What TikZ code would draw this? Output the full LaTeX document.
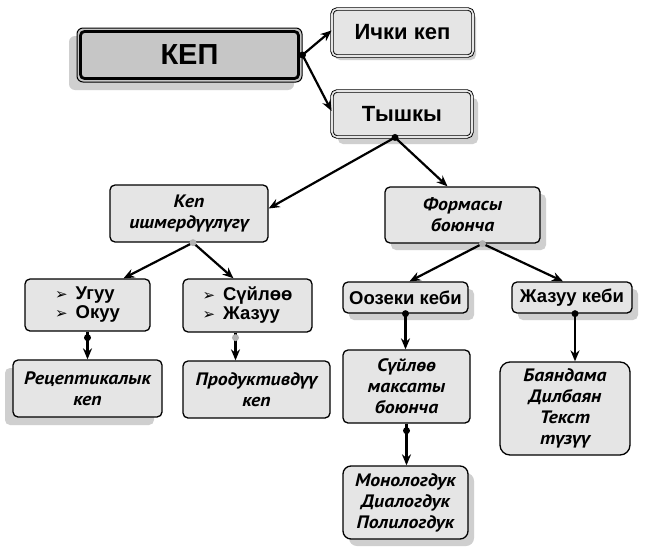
\documentclass[tikz,border=0pt]{standalone}
\usepackage{fontspec}
\setmainfont{Liberation Sans}
\newfontfamily\ptit[FakeStretch=1.1]{PT Sans}
\newfontfamily\dejavu{DejaVu Sans}
\usetikzlibrary{arrows.meta,shadows,calc}
\newcommand{\blt}{{\dejavu\fontsize{15}{15}\selectfont ➢}\hspace{8pt}}
\begin{document}
\begin{tikzpicture}[x=1pt,y=-1pt,
  box/.style={draw, rounded corners=5pt, fill=gray!20, line width=1.3pt,
    align=center, inner sep=0pt, font=\fontsize{18.5}{20}\selectfont\bfseries},
  itbox/.style={box, font=\ptit\fontsize{18}{21}\selectfont\bfseries\itshape},
  dbl/.style={double=gray!20, double distance=1.6pt, line width=0.9pt},
  shr/.style={drop shadow={shadow xshift=6pt, shadow yshift=-7pt, fill=gray!38, opacity=1}},
  shl/.style={drop shadow={shadow xshift=-8pt, shadow yshift=-8pt, fill=gray!38, opacity=1}},
  conn/.style={line width=2.2pt, -{Stealth[length=11pt,width=9pt]}},
  dotc/.style={circle, fill=black, inner sep=0pt, minimum size=7pt}
]
\useasboundingbox (0,0) rectangle (645,546);
\fill[white] (0,0) rectangle (645,546);

% top level
\node[box, shl, fill=gray!45, rounded corners=6pt, minimum width=225pt, minimum height=54pt,
  line width=1pt, font=\fontsize{29}{31}\selectfont\bfseries] (kep) at (189.5,55) {КЕП};
\draw[line width=2.8pt, rounded corners=4pt]
  ([shift={(4pt,-4pt)}]kep.north west) rectangle ([shift={(-4pt,4pt)}]kep.south east);
\node[box, dbl, drop shadow={shadow xshift=3pt, shadow yshift=-4pt, fill=gray!38, opacity=1},
  minimum width=141pt, minimum height=47pt,
  font=\fontsize{22}{24}\selectfont\bfseries] (ichki) at (402.5,32.5) {Ички кеп};
\node[box, dbl, shr, minimum width=140pt, minimum height=46pt,
  font=\fontsize{22}{24}\selectfont\bfseries] (tyshky) at (402,114) {Тышкы};

% second level
\node[itbox, minimum width=158pt, minimum height=57pt] (kepish) at (189,213.5) {Кеп\\ишмердүүлүгү};
\node[itbox, shr, minimum width=155pt, minimum height=56pt] (forma) at (462.5,215) {Формасы\\боюнча};

% third level
\node[box, minimum width=125pt, minimum height=52pt] (ugu) at (87.5,305)
  {\begin{tabular}{@{}l@{}}\blt Угуу\\[-1pt]\blt Окуу\end{tabular}};
\node[box, minimum width=129pt, minimum height=53pt] (suilo) at (247.5,305.5)
  {\begin{tabular}{@{}l@{}}\blt Сүйлөө\\[-1pt]\blt Жазуу\end{tabular}};
\node[box, shr, minimum width=125pt, minimum height=31pt] (oozeki) at (405.5,297.5) {Оозеки кеби};
\node[box, shr, minimum width=120pt, minimum height=31pt] (jazuu) at (572,297.5) {Жазуу кеби};

% fourth level
\node[itbox, shl, minimum width=149pt, minimum height=57pt] (recep) at (87.5,388.5) {Рецептикалык\\кеп};
\node[itbox, minimum width=147pt, minimum height=57pt] (prod) at (256.5,389.5) {Продуктивдүү\\кеп};
\node[itbox, minimum width=127pt, minimum height=73pt] (maksat) at (406.5,386.5) {Сүйлөө\\максаты\\боюнча};
\node[itbox, rounded corners=10pt, minimum width=130pt, minimum height=93pt] (bayan) at (565,408.5)
  {Баяндама\\Дилбаян\\Текст\\түзүү};
\node[itbox, shr, rounded corners=8pt, minimum width=125pt, minimum height=73pt] (mono) at (405.5,502.5)
  {Монологдук\\Диалогдук\\Полилогдук};

% connectors
\draw[conn] (kep.east) -- ([yshift=2pt]ichki.west);
\draw[conn] (kep.east) -- ([yshift=3pt]tyshky.west);
\node[dotc] at (kep.east) {};

\draw[conn] ([xshift=-7pt]tyshky.south) -- ([yshift=5pt]kepish.east);
\draw[conn] ([xshift=-7pt]tyshky.south) -- ([xshift=-15pt]forma.north);
\node[dotc] at ([xshift=-7pt]tyshky.south) {};

\draw[conn] ([xshift=4pt]kepish.south) -- ([xshift=36pt]ugu.north);
\draw[conn] ([xshift=4pt]kepish.south) -- ([xshift=-14pt]suilo.north);
\node[dotc, fill=gray!60] at ([xshift=4pt]kepish.south) {};

\draw[conn] ([xshift=20pt]forma.south) -- ([xshift=4pt]oozeki.north);
\draw[conn] ([xshift=20pt]forma.south) -- ([xshift=-9pt]jazuu.north);
\node[dotc, fill=gray!60] at ([xshift=20pt]forma.south) {};

\draw[conn] (ugu.south) -- (ugu.south |- recep.north);
\node[dotc] at ([yshift=-6pt]ugu.south) {};
\draw[conn] ([xshift=-12pt]suilo.south) -- ([xshift=-12pt]suilo.south |- prod.north);
\node[dotc, fill=gray!60] at ([xshift=-12pt,yshift=-5pt]suilo.south) {};

\draw[conn] (oozeki.south) -- (oozeki.south |- maksat.north);
\node[dotc] at (oozeki.south) {};
\draw[conn] ([xshift=3pt]jazuu.south) -- ([xshift=3pt]jazuu.south |- bayan.north);
\node[dotc] at ([xshift=3pt]jazuu.south) {};
\draw[conn] (maksat.south) -- (maksat.south |- mono.north);
\node[dotc] at ([yshift=-7pt]maksat.south) {};
\end{tikzpicture}
\end{document}
